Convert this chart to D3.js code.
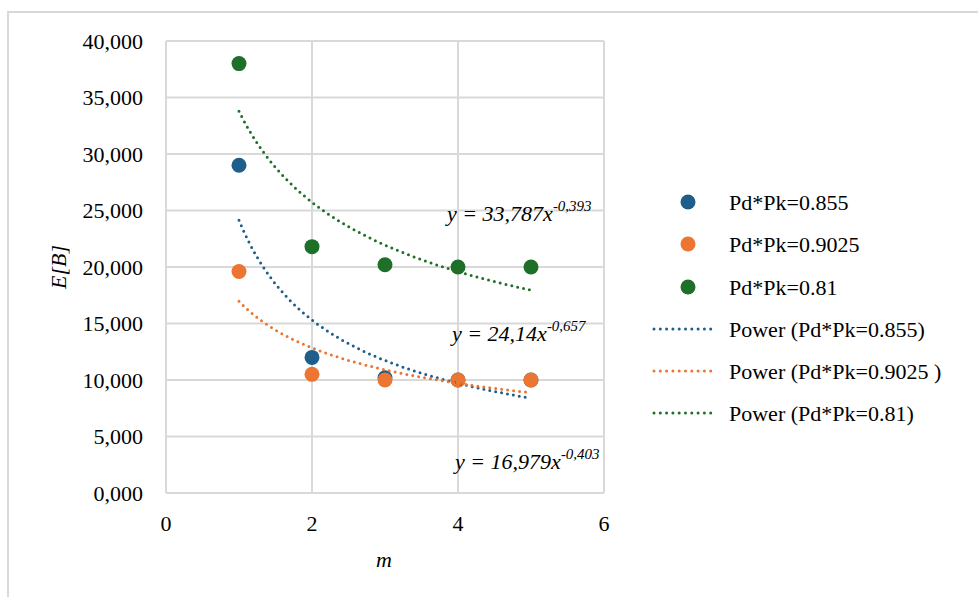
<!DOCTYPE html>
<html>
<head>
<meta charset="utf-8">
<script src="https://cdn.jsdelivr.net/npm/d3@7"></script>
</head>
<body style="margin:0;padding:0;background:#fff">
<svg id="chart" width="978" height="597"></svg>
<script>
// m values on the horizontal axis
const mValues = [1, 2, 3, 4, 5];

// E[B] for each Pd*Pk setting
const seriesNames = ["Pd*Pk=0.855", "Pd*Pk=0.9025", "Pd*Pk=0.81"];
const values0855 = [29.0, 12.0, 10.2, 10.0, 10.0];
const values09025 = [19.6, 10.5, 10.0, 10.0, 10.0];
const values081 = [38.0, 21.8, 20.2, 20.0, 20.0];

// Power trendlines y = a * x^b, one per series
const trendNames = ["Power (Pd*Pk=0.855)", "Power (Pd*Pk=0.9025 )", "Power (Pd*Pk=0.81)"];
const trendA = [24.14, 16.979, 33.787];
const trendB = [-0.657, -0.403, -0.393];
const trendLabelA = ["24,14", "16,979", "33,787"];
const trendLabelB = ["-0,657", "-0,403", "-0,393"];

// Axis ticks
const xTicks = [0, 2, 4, 6];
const yTicks = [0, 5, 10, 15, 20, 25, 30, 35, 40];

const colors = ["#1d5f8a", "#ed7532", "#1e7028"];
const seriesValues = [values0855, values09025, values081];

const svg = d3.select("#chart");
const gridColor = "#d9d9d9";

// every label goes through this helper so the serif face is applied the same way
function label(parent, txt, size, italic) {
  const t = parent.append("text")
    .style("font-family", "Liberation Serif")
    .style("font-size", size + "px");
  if (italic) t.style("font-style", "italic");
  if (txt !== null) t.text(txt);
  return t;
}

// outer chart frame
svg.append("path")
  .attr("d", "M8,600 L8,12 L980,12")
  .attr("fill", "none")
  .attr("stroke", gridColor)
  .attr("stroke-width", 2);

const x = d3.scaleLinear().domain([0, 6]).range([166, 604]);
const y = d3.scaleLinear().domain([0, 40]).range([493, 41]);

const locale = d3.formatLocale({ decimal: ",", thousands: ".", grouping: [3], currency: ["", ""] });
const fmtY = locale.format(".3f");

// gridlines
const grid = svg.append("g");
grid.selectAll("line.h").data(yTicks).join("line")
  .attr("x1", x(0)).attr("x2", x(6))
  .attr("y1", d => y(d)).attr("y2", d => y(d))
  .attr("stroke", gridColor).attr("stroke-width", 2);
grid.selectAll("line.v").data(xTicks).join("line")
  .attr("y1", y(0)).attr("y2", y(40))
  .attr("x1", d => x(d)).attr("x2", d => x(d))
  .attr("stroke", gridColor).attr("stroke-width", 2);

// y axis labels
yTicks.forEach(d => {
  label(svg, fmtY(d), 22).attr("x", x(0) - 23).attr("y", y(d)).attr("dy", "0.35em")
    .attr("text-anchor", "end");
});

// x axis labels
xTicks.forEach(d => {
  label(svg, String(d), 22).attr("x", x(d)).attr("y", y(0) + 38).attr("text-anchor", "middle");
});

// axis titles
label(svg, "m", 22, true).attr("x", 384).attr("y", 567).attr("text-anchor", "middle");
label(svg, "E[B]", 22, true).attr("transform", "translate(66,267) rotate(-90)").attr("text-anchor", "middle");

// data markers
seriesValues.forEach((vals, i) => {
  svg.append("g").selectAll("circle")
    .data(mValues.map((m, j) => [m, vals[j]]))
    .join("circle")
    .attr("cx", d => x(d[0])).attr("cy", d => y(d[1]))
    .attr("r", 7.5)
    .attr("fill", colors[i]);
});

// power trendlines from the fitted coefficients
const line = d3.line().x(d => x(d[0])).y(d => y(d[1]));
trendA.forEach((a, i) => {
  const pts = d3.range(0, 201).map(k => {
    const m = 1 + k * 4 / 200;
    return [m, a * Math.pow(m, trendB[i])];
  });
  svg.append("path")
    .attr("d", line(pts))
    .attr("fill", "none")
    .attr("stroke", colors[i])
    .attr("stroke-width", 3)
    .attr("stroke-linecap", "round")
    .attr("stroke-dasharray", "0,6");
});

// trendline equations
const eqPos = [[452, 341], [455, 469], [447, 221]];
trendA.forEach((a, i) => {
  const t = label(svg, null, 22, true).attr("x", eqPos[i][0]).attr("y", eqPos[i][1]);
  t.append("tspan").text(`y = ${trendLabelA[i]}x`);
  t.append("tspan").style("font-size", "15px").attr("dy", -10).text(trendLabelB[i]);
});

// legend
const rowY = [202, 244, 287, 329, 371, 413];
seriesNames.forEach((name, i) => {
  svg.append("circle").attr("cx", 688).attr("cy", rowY[i]).attr("r", 7.5).attr("fill", colors[i]);
  label(svg, name, 22).attr("x", 729).attr("y", rowY[i]).attr("dy", "0.35em");
});
trendNames.forEach((name, i) => {
  const yy = rowY[3 + i];
  svg.append("line").attr("x1", 654).attr("x2", 717).attr("y1", yy).attr("y2", yy)
    .attr("stroke", colors[i]).attr("stroke-width", 3)
    .attr("stroke-linecap", "round").attr("stroke-dasharray", "0,6.3");
  label(svg, name, 22).attr("x", 729).attr("y", yy).attr("dy", "0.35em");
});
</script>
</body>
</html>
